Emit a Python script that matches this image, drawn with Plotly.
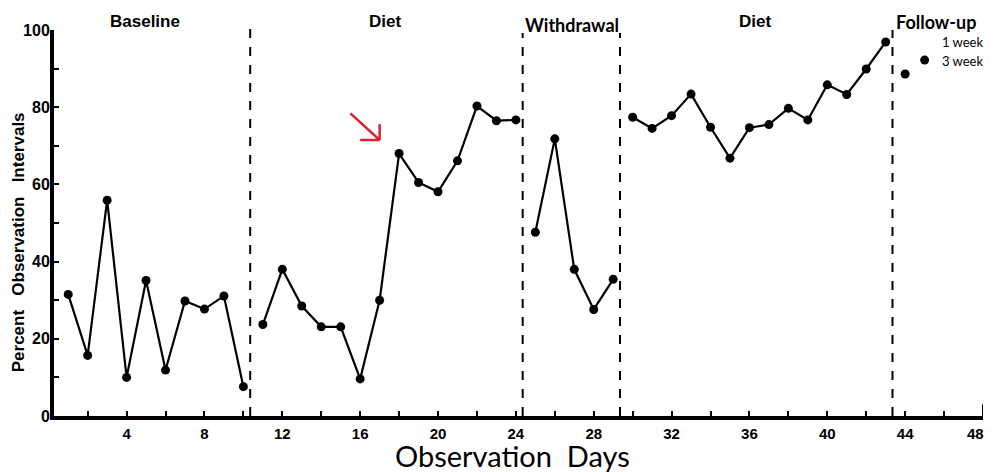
import plotly.graph_objects as go

# ---- data ----
baseline_days = [1, 2, 3, 4, 5, 6, 7, 8, 9, 10]
baseline_pct = [31.5, 15.7, 55.9, 10.0, 35.1, 11.9, 29.8, 27.7, 31.1, 7.6]

diet1_days = [11, 12, 13, 14, 15, 16, 17, 18, 19, 20, 21, 22, 23, 24]
diet1_pct = [23.7, 38.0, 28.5, 23.1, 23.1, 9.6, 30.0, 68.0, 60.5, 58.1, 66.1, 80.3, 76.5, 76.7]

withdrawal_days = [25, 26, 27, 28, 29]
withdrawal_pct = [47.6, 71.8, 38.0, 27.6, 35.4]

diet2_days = [30, 31, 32, 33, 34, 35, 36, 37, 38, 39, 40, 41, 42, 43]
diet2_pct = [77.4, 74.5, 77.8, 83.4, 74.8, 66.8, 74.7, 75.5, 79.7, 76.7, 85.8, 83.3, 89.9, 96.9]

followup_days = [44, 45]
followup_pct = [88.6, 92.2]

phase_boundaries = [10.35, 24.35, 29.35, 43.35]
phase_names = ["Baseline", "Diet", "Withdrawal", "Diet", "Follow-up"]
phase_label_x = [4.94, 17.27, 26.9, 36.3, 45.6]

x_tickvals = list(range(2, 49, 2))
x_ticktext = [str(v) if (v % 4 == 0 and v < 48) else "" for v in x_tickvals]
x_end_label = "48"
y_tickvals = list(range(0, 101, 10))
y_ticktext = [str(v) if v % 20 == 0 else "" for v in y_tickvals]

BOLD = "Liberation Sans, Arial, sans-serif"
GEO = "Lato, Noto Sans, sans-serif"

fig = go.Figure()

line_style = dict(color="black", width=2.2)
marker_style = dict(color="black", size=9)
for xs, ys in [(baseline_days, baseline_pct), (diet1_days, diet1_pct),
               (withdrawal_days, withdrawal_pct), (diet2_days, diet2_pct)]:
    fig.add_trace(go.Scatter(x=xs, y=ys, mode="lines+markers", line=line_style,
                             marker=marker_style, cliponaxis=False, showlegend=False))
fig.add_trace(go.Scatter(x=followup_days, y=followup_pct, mode="markers",
                         marker=marker_style, cliponaxis=False, showlegend=False))

# phase change lines
tops = [1.01, 0.992, 0.992, 1.0]
for b, t in zip(phase_boundaries, tops):
    fig.add_shape(type="line", xref="x", yref="paper", x0=b, x1=b, y0=0, y1=t,
                  line=dict(color="black", width=2, dash="dash"))

# taller end tick of the day axis
fig.add_shape(type="line", xref="x", yref="paper", x0=48, x1=48, y0=0, y1=0.03,
              line=dict(color="black", width=2))

# end label of the day axis (sits a little left of its tick, as in the reference)
fig.add_annotation(x=47.6, y=-0.046, xref="x", yref="paper", text=x_end_label, showarrow=False,
                   xanchor="center", yanchor="middle",
                   font=dict(family=BOLD, size=15, color="black", weight="bold"))

# phase labels
label_y = [1.021, 1.021, 1.013, 1.021, 1.021]
label_font = [dict(family=BOLD, size=17, color="black", weight="bold"),
              dict(family=BOLD, size=17, color="black", weight="bold"),
              dict(family=GEO, size=18, color="black", weight="bold"),
              dict(family=BOLD, size=17, color="black", weight="bold"),
              dict(family=GEO, size=18, color="black", weight="bold")]
for txt, lx, ly, f in zip(phase_names, phase_label_x, label_y, label_font):
    fig.add_annotation(x=lx, y=ly, xref="x", yref="paper", text=txt, showarrow=False,
                       font=f, xanchor="center", yanchor="middle")

fig.add_annotation(x=1.002, y=0.969, xref="paper", yref="paper", text="1 week", showarrow=False,
                   font=dict(family=GEO, size=13, color="black"), xanchor="right", yanchor="middle")
fig.add_annotation(x=1.002, y=0.920, xref="paper", yref="paper", text="3 week", showarrow=False,
                   font=dict(family=GEO, size=13, color="black"), xanchor="right", yanchor="middle")

# red arrow (annotation mark)
red = "#d8232a"
fig.add_shape(type="line", xref="x", yref="y", x0=15.5, y0=78.4, x1=17.0, y1=71.5,
              line=dict(color=red, width=2.5))
fig.add_shape(type="line", xref="x", yref="y", x0=16.0, y0=71.5, x1=17.0, y1=71.5,
              line=dict(color=red, width=2.5))
fig.add_shape(type="line", xref="x", yref="y", x0=17.0, y0=75.6, x1=17.0, y1=71.5,
              line=dict(color=red, width=2.5))

# y axis title (three spaced words)
fig.add_annotation(x=-0.0388, y=0.45, xref="paper", yref="paper",
                   text="Percent&nbsp;&nbsp;&nbsp;Observation&nbsp;&nbsp;&nbsp;Intervals",
                   textangle=-90, showarrow=False, xanchor="center", yanchor="middle",
                   font=dict(family=BOLD, size=17, color="black", weight="bold"))
# x axis title
fig.add_annotation(x=23.84, y=-0.102, xref="x", yref="paper",
                   text="Observation&nbsp;&nbsp;Days", showarrow=False,
                   xanchor="center", yanchor="middle",
                   font=dict(family=GEO, size=29, color="black"))

fig.update_xaxes(range=[0.27, 48], tickvals=x_tickvals, ticktext=x_ticktext,
                 ticks="inside", ticklen=5, tickwidth=2, tickcolor="black",
                 showline=True, linewidth=4, linecolor="black", showgrid=False,
                 zeroline=False, ticklabelstandoff=1, automargin=False,
                 tickfont=dict(family=BOLD, size=15, color="black", weight="bold"))
fig.update_yaxes(range=[0, 100], tickvals=y_tickvals, ticktext=y_ticktext,
                 ticks="inside", ticklen=5, tickwidth=2, tickcolor="black",
                 showline=True, linewidth=4, linecolor="black", showgrid=False,
                 zeroline=False, ticklabelstandoff=-3, automargin=False,
                 tickfont=dict(family=BOLD, size=16, color="black", weight="bold"))

# page body has an 8px margin: size and margins compensate so the plot lands where the reference has it
fig.update_layout(width=989, height=464, margin=dict(l=46, r=14, t=22, b=56, autoexpand=False),
                  plot_bgcolor="white", paper_bgcolor="white", showlegend=False)

fig.write_html("out.html")
